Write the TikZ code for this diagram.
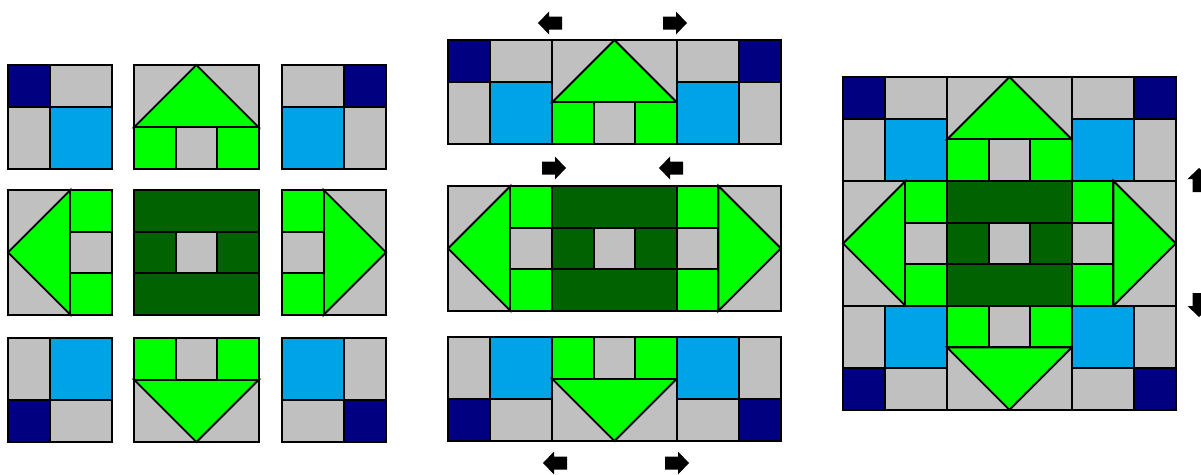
\documentclass[tikz,border=0pt]{standalone}
\usepackage{tikz}
\definecolor{navyblock}{RGB}{0,0,128}
\definecolor{skyblock}{RGB}{0,162,232}
\definecolor{greyblock}{RGB}{192,192,192}
\definecolor{limeblock}{RGB}{0,255,0}
\definecolor{forestblock}{RGB}{0,98,0}
\tikzset{
  patch/.style={draw=black, line width=1.9pt},
  pushtip/.style={fill=black}
}
\newcommand{\unitsize}{41.6}
\newcommand{\cornerblock}[3]{
  \begin{scope}[shift={(#1,#2)}, scale=\unitsize, #3]
    \filldraw[patch, fill=navyblock] (0,0) rectangle (1,1);
    \filldraw[patch, fill=greyblock] (1,0) rectangle (2.5,1);
    \filldraw[patch, fill=greyblock] (0,1) rectangle (1,2.5);
    \filldraw[patch, fill=skyblock] (1,1) rectangle (2.5,2.5);
  \end{scope}
}
\newcommand{\sideblock}[3]{
  \begin{scope}[shift={(#1,#2)}, scale=\unitsize, #3]
    \filldraw[patch, fill=greyblock] (0,0) rectangle (3,1.5);
    \filldraw[patch, fill=limeblock] (0,1.5) -- (1.5,0) -- (3,1.5) -- cycle;
    \filldraw[patch, fill=limeblock] (0,1.5) rectangle (1,2.5);
    \filldraw[patch, fill=greyblock] (1,1.5) rectangle (2,2.5);
    \filldraw[patch, fill=limeblock] (2,1.5) rectangle (3,2.5);
  \end{scope}
}
\newcommand{\centerblock}[2]{
  \begin{scope}[shift={(#1,#2)}, scale=\unitsize]
    \filldraw[patch, fill=forestblock] (0,0) rectangle (3,1);
    \filldraw[patch, fill=forestblock] (0,1) rectangle (1,2);
    \filldraw[patch, fill=greyblock] (1,1) rectangle (2,2);
    \filldraw[patch, fill=forestblock] (2,1) rectangle (3,2);
    \filldraw[patch, fill=forestblock] (0,2) rectangle (3,3);
  \end{scope}
}
\newcommand{\pusharrow}[3]{
  \fill[pushtip, shift={(#1,#2)}, rotate=#3]
    (-12,0) -- (-1,-11.5) -- (-1,-6.5) -- (12,-6.5) -- (12,6.5) -- (-1,6.5) -- (-1,11.5) -- cycle;
}

\begin{document}
\begin{tikzpicture}[x=1pt, y=-1pt]
  \useasboundingbox (0,0) rectangle (1201,474);
  \clip (0,0) rectangle (1201,474);

  \cornerblock{8}{65}{}
  \sideblock{134}{65}{}
  \cornerblock{282}{65}{shift={(2.5,0)}, rotate=-90}
  \sideblock{8}{190}{shift={(0,3)}, rotate=90}
  \centerblock{134}{190}
  \sideblock{282}{190}{shift={(2.5,0)}, rotate=-90}
  \cornerblock{8}{338}{shift={(0,2.5)}, rotate=90}
  \sideblock{134}{338}{shift={(3,2.5)}, rotate=180}
  \cornerblock{282}{338}{shift={(2.5,2.5)}, rotate=180}

  \cornerblock{448}{40}{}
  \sideblock{552}{40}{}
  \cornerblock{676.8}{40}{shift={(2.5,0)}, rotate=-90}
  \sideblock{448}{186}{shift={(0,3)}, rotate=90}
  \centerblock{552}{186}
  \sideblock{676.8}{186}{shift={(2.5,0)}, rotate=-90}
  \cornerblock{448}{337}{shift={(0,2.5)}, rotate=90}
  \sideblock{552}{337}{shift={(3,2.5)}, rotate=180}
  \cornerblock{676.8}{337}{shift={(2.5,2.5)}, rotate=180}

  \cornerblock{843}{77}{}
  \sideblock{947}{77}{}
  \cornerblock{1071.8}{77}{shift={(2.5,0)}, rotate=-90}
  \sideblock{843}{181}{shift={(0,3)}, rotate=90}
  \centerblock{947}{181}
  \sideblock{1071.8}{181}{shift={(2.5,0)}, rotate=-90}
  \cornerblock{843}{305.8}{shift={(0,2.5)}, rotate=90}
  \sideblock{947}{305.8}{shift={(3,2.5)}, rotate=180}
  \cornerblock{1071.8}{305.8}{shift={(2.5,2.5)}, rotate=180}

  \pusharrow{550}{23}{0}
  \pusharrow{675}{23}{180}
  \pusharrow{554}{168}{180}
  \pusharrow{671}{168}{0}
  \pusharrow{555}{463}{0}
  \pusharrow{677}{463}{180}
  \pusharrow{1199}{180}{-90}
  \pusharrow{1199}{305}{90}
\end{tikzpicture}
\end{document}
